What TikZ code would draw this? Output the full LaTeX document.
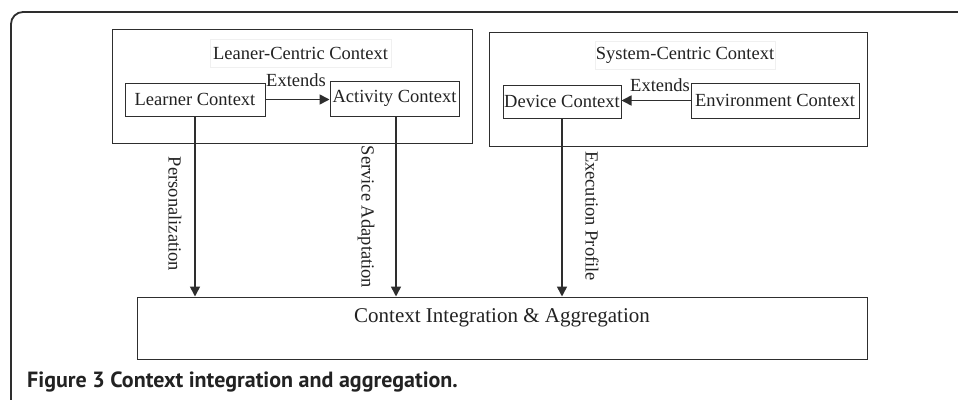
\documentclass[tikz,border=0pt]{standalone}
\usepackage{fontspec}
\setmainfont{Liberation Serif}
\setsansfont{PT Sans}
\usetikzlibrary{arrows.meta}
\definecolor{ln}{HTML}{2E2E2E}
\definecolor{tx}{HTML}{222222}
\tikzset{
  box/.style={draw=ln, line width=1pt, rectangle, inner sep=0pt, text=tx},
  group/.style={draw=ln, line width=1pt, rectangle, inner sep=0pt},
  ttl/.style={draw=black!6, line width=0.6pt, inner sep=0pt, text=tx, font=\fontsize{18.5}{20}\selectfont},
  lbl/.style={inner sep=0pt, text=tx, font=\fontsize{18.5}{20}\selectfont},
  arr/.style={draw=ln, line width=1.6pt, -{Triangle[length=10pt,width=10pt]}},
}
\begin{document}
\begin{tikzpicture}[x=1pt,y=-1pt]
\useasboundingbox (0,0) rectangle (958,399);
\fill[white] (0,0) rectangle (958,399);
% outer frame
\draw[ln, line width=1.8pt, rounded corners=12pt] (11,402) -- (11,12) -- (962,12);
% groups
\node[group, minimum width=360pt, minimum height=114pt] (lgroup) at (292,86) {};
\node[group, minimum width=378pt, minimum height=114pt] (sgroup) at (678,89) {};
\node[ttl, minimum width=181pt, minimum height=28pt] (ltitle) at (300.5,53) {Leaner-Centric Context};
\node[ttl, minimum width=180pt, minimum height=28pt] (stitle) at (685,55) {System-Centric Context};
% inner boxes
\node[box, lbl, draw=ln, minimum width=140pt, minimum height=33pt] (learner) at (195,99.5) {Learner Context};
\node[box, lbl, draw=ln, minimum width=129pt, minimum height=35pt] (activity) at (394.5,98.5) {Activity Context};
\node[box, lbl, draw=ln, minimum width=118pt, minimum height=33pt] (device) at (562,101.5) {Device Context};
\node[box, lbl, draw=ln, minimum width=168pt, minimum height=35pt] (env) at (775,100.5) {Environment Context};
% integration
\node[group, minimum width=730pt, minimum height=62pt] (integ) at (502,328) {};
\node[lbl, font=\fontsize{21}{23}\selectfont] (integtext) at (502,318) {Context Integration \& Aggregation};
% extends arrows
\draw[arr] (learner.east) -- (learner.east -| activity.west);
\node[lbl] (ext1) at (296,80.5) {Extends};
\draw[arr] (env.west) -- (env.west -| device.east);
\node[lbl] (ext2) at (660,85) {Extends};
% vertical arrows
\draw[arr] (learner.south) -- (learner.south |- integ.north);
\draw[arr] ([xshift=1.5pt]activity.south) -- ([xshift=1.5pt]activity.south |- integ.north);
\draw[arr] (device.south) -- (device.south |- integ.north);
\node[lbl, rotate=-90] (pers) at (175,214) {Personalization};
\node[lbl, rotate=-90] (serv) at (366,217) {Service Adaptation};
\node[lbl, rotate=-90] (exec) at (592,216) {Execution Profile};
% caption
\node[anchor=west, inner sep=0pt, text=tx, font=\sffamily\bfseries\fontsize{22}{24}\selectfont] (cap) at (27,382) {Figure 3 Context integration and aggregation.};
\end{tikzpicture}
\end{document}
